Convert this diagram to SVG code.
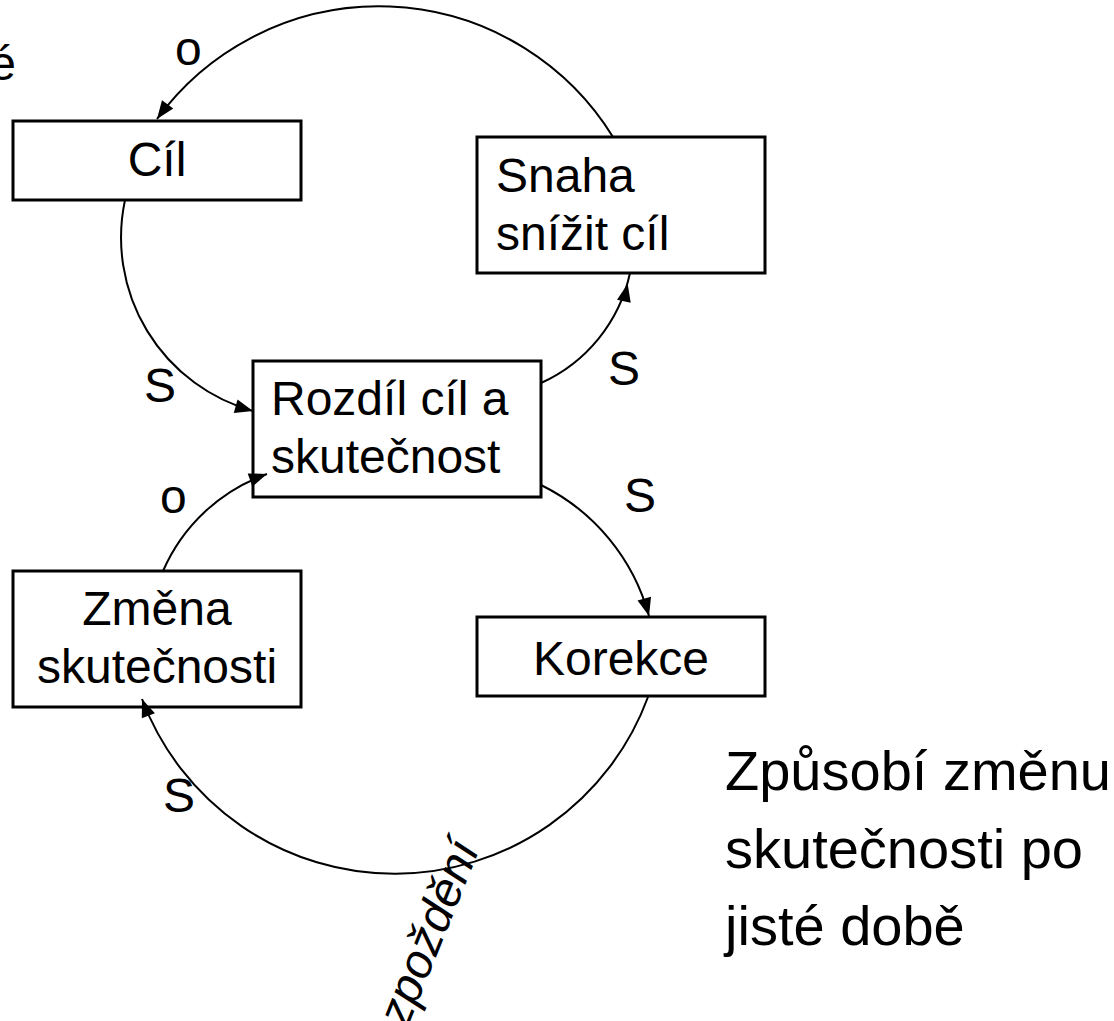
<svg xmlns="http://www.w3.org/2000/svg" width="1114" height="1021" viewBox="0 0 1114 1021">
<style>
.box{fill:#fff;stroke:#000;stroke-width:3}
.t{font-family:"Liberation Sans",Arial,sans-serif;font-size:48px;fill:#000}
.big{font-family:"Liberation Sans",Arial,sans-serif;font-size:56px;fill:#000}
.c{text-anchor:middle}
.arc{fill:none;stroke:#000;stroke-width:2}
</style>
<defs>
<marker id="ah" markerUnits="userSpaceOnUse" markerWidth="18" markerHeight="14" refX="18" refY="7" orient="auto" overflow="visible">
<path d="M0,0 L18,7 L0,14 z" fill="#000"/>
</marker>
<marker id="ahb" markerUnits="userSpaceOnUse" markerWidth="18" markerHeight="14" refX="29" refY="7" orient="auto" overflow="visible">
<path d="M0,0 L18,7 L0,14 z" fill="#000"/>
</marker>
</defs>
<rect width="1114" height="1021" fill="#fff"/>
<g id="cil">
<rect class="box" x="13" y="121" width="288" height="79"/>
<text class="t c" x="157" y="176">Cíl</text>
</g>
<g id="snaha">
<rect class="box" x="477" y="137" width="288" height="136"/>
<text class="t" x="496" y="192">Snaha</text>
<text class="t" x="496" y="250">snížit cíl</text>
</g>
<g id="rozdil">
<rect class="box" x="253" y="361" width="288" height="136"/>
<text class="t" x="271" y="415">Rozdíl cíl a</text>
<text class="t" x="271" y="473">skutečnost</text>
</g>
<g id="zmena">
<rect class="box" x="13" y="571" width="288" height="136"/>
<text class="t c" x="157" y="625">Změna</text>
<text class="t c" x="157" y="683">skutečnosti</text>
</g>
<g id="korekce">
<rect class="box" x="477" y="617" width="288" height="79"/>
<text class="t c" x="621" y="675">Korekce</text>
</g>
<g id="connectors">
<path class="arc" d="M613,137 A275 275 0 0 0 157 119" marker-end="url(#ah)"/>
<path class="arc" d="M125,200 A180 180 0 0 0 253 411" marker-end="url(#ah)"/>
<path class="arc" d="M541,383 A157 157 0 0 0 630 273" marker-end="url(#ahb)"/>
<path class="arc" d="M541,485 A206 206 0 0 1 649 616" marker-end="url(#ah)"/>
<path class="arc" d="M648,697 A270 270 0 0 1 142 699" marker-end="url(#ah)"/>
<path class="arc" d="M163,571 A178 178 0 0 1 267 474" marker-end="url(#ah)"/>
</g>
<g id="labels">
<text class="t" x="16" y="80" text-anchor="end">é</text>
<text class="t" x="175" y="65">o</text>
<text class="t" x="144" y="402">S</text>
<text class="t" x="608" y="385">S</text>
<text class="t" x="160" y="513">o</text>
<text class="t" x="624" y="512">S</text>
<text class="t" x="163" y="812">S</text>
<text class="t" font-style="italic" transform="translate(407,1029) rotate(-68)">zpoždění</text>
</g>
<g id="note">
<text class="big" x="725" y="790">Způsobí změnu</text>
<text class="big" x="725" y="868">skutečnosti po</text>
<text class="big" x="725" y="945">jisté době</text>
</g>
</svg>
